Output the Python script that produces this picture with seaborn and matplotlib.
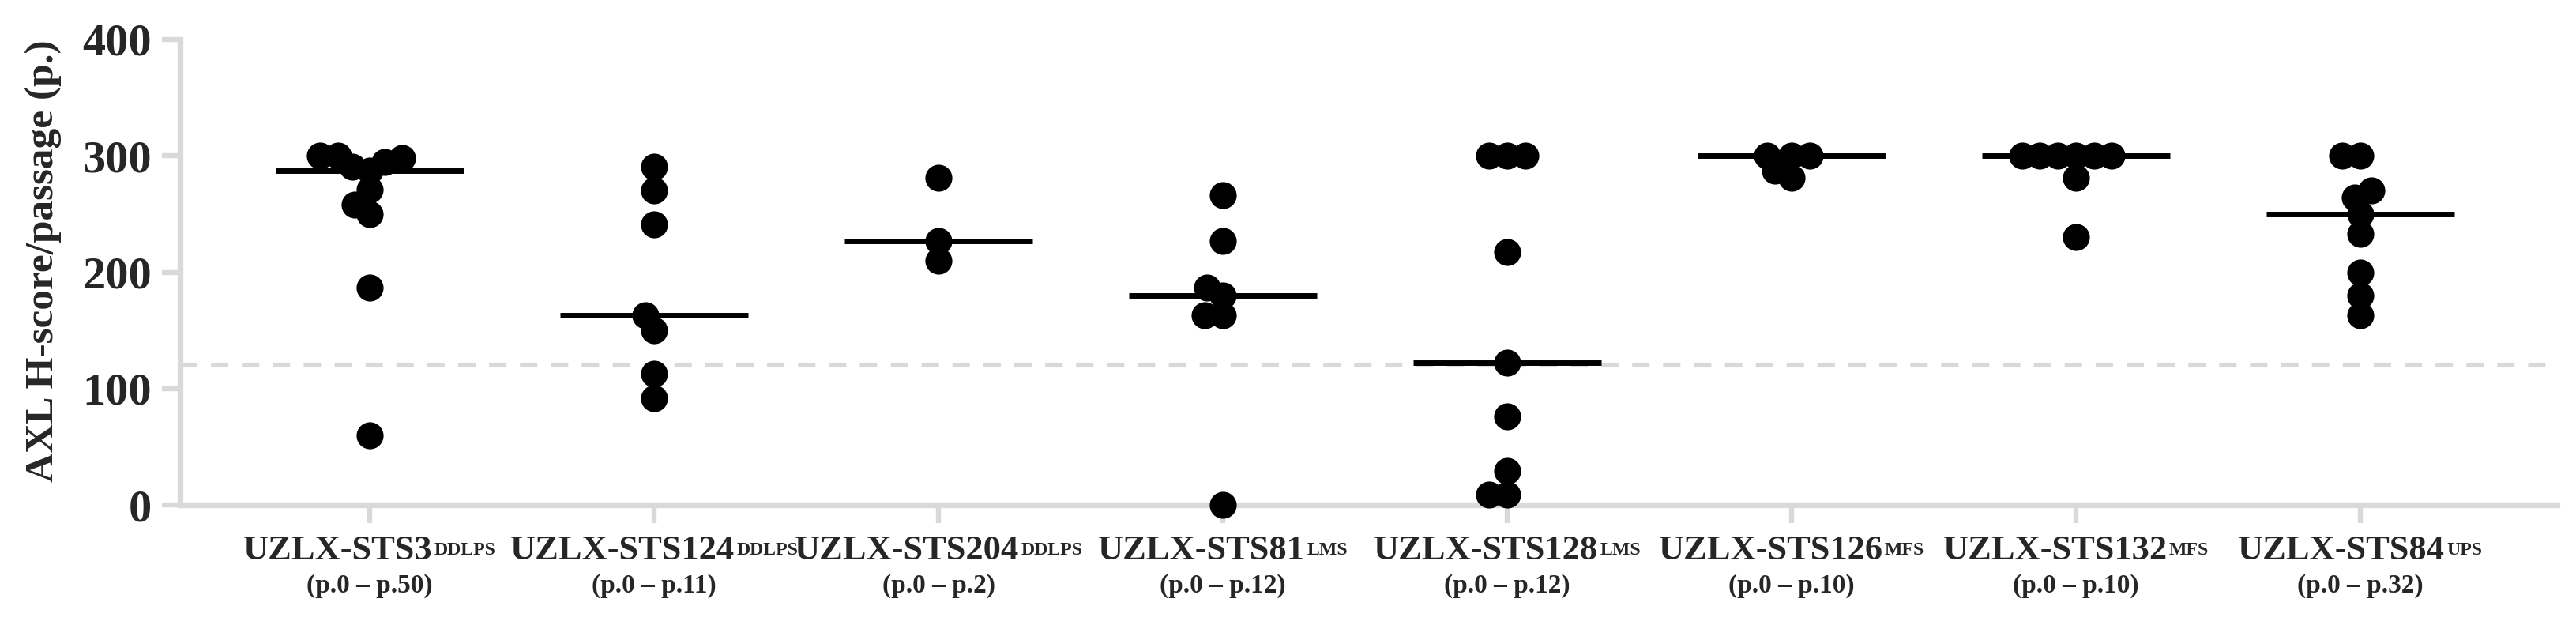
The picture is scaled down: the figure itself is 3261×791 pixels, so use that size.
import numpy as np
import pandas as pd
import matplotlib
matplotlib.use("Agg")
import matplotlib.pyplot as plt
import seaborn as sns
from matplotlib.offsetbox import TextArea, HPacker, VPacker, AnnotationBbox

# ---------------- data ----------------
models = ["UZLX-STS3", "UZLX-STS124", "UZLX-STS204", "UZLX-STS81",
          "UZLX-STS128", "UZLX-STS126", "UZLX-STS132", "UZLX-STS84"]
subtypes = ["DDLPS", "DDLPS", "DDLPS", "LMS", "LMS", "MFS", "MFS", "UPS"]
passages = ["(p.0 \u2013 p.50)", "(p.0 \u2013 p.11)", "(p.0 \u2013 p.2)", "(p.0 \u2013 p.12)",
            "(p.0 \u2013 p.12)", "(p.0 \u2013 p.10)", "(p.0 \u2013 p.10)", "(p.0 \u2013 p.32)"]

sts3 = [300, 300, 298, 295, 291, 287, 271, 258, 250, 187, 60]
sts124 = [291, 270, 241, 163, 150, 113, 92]
sts204 = [281, 227, 210]
sts81 = [266, 227, 187, 180, 163, 163, 0]
sts128 = [300, 300, 300, 217, 122, 76, 29, 9, 9]
sts126 = [300, 300, 300, 287, 281]
sts132 = [300, 300, 300, 300, 300, 300, 281, 230]
sts84 = [300, 300, 270, 264, 250, 233, 200, 180, 163]
scores = [sts3, sts124, sts204, sts81, sts128, sts126, sts132, sts84]

yticks = [0, 100, 200, 300, 400]
threshold = 120
y_label = "AXL H-score/passage (p.)"

# ---------------- style ----------------
sns.set_style("ticks")
plt.rcParams["font.family"] = ["Liberation Serif", "DejaVu Serif"]
plt.rcParams["font.weight"] = "bold"
GREY = "#d9d9d9"
DOT = 12.3          # visible marker diameter (pt)
DOT_LAYOUT = 7.8    # diameter used by the swarm layout (lets dots overlap a bit)

df = pd.DataFrame({
    "model": np.repeat(models, [len(v) for v in scores]),
    "score": np.concatenate(scores).astype(float),
})

W, H, DPI = 3262, 791, 200
fig = plt.figure(figsize=(W / DPI, H / DPI), dpi=DPI)
ax = fig.add_axes([228 / W, 1 - 639 / H, (3237 - 228) / W, (639 - 50) / H])

ax.axhline(threshold, color=GREY, lw=2.2, ls=(0, (3.6, 2.8)), zorder=0)

sns.swarmplot(data=df, x="model", y="score", order=models, color="black",
              size=DOT_LAYOUT, linewidth=0, ax=ax, zorder=3)
swarm_colls = list(ax.collections)
sns.pointplot(data=df, x="model", y="score", order=models, estimator="median",
              errorbar=None, linestyle="none", marker="_", markersize=86,
              markeredgewidth=2.5, color="black", ax=ax, zorder=4)

ax.set_xlim(-0.667, 7.692)
ax.set_ylim(0, 400)

# run the swarm layout once, then freeze it and enlarge the dots
fig.canvas.draw()
for c in swarm_colls:
    if "draw" in c.__dict__:
        del c.draw
    c.set_sizes([DOT ** 2])
    c.set_clip_on(False)

ax.set_xlim(-0.667, 7.692)
ax.set_ylim(0, 400)
ax.set_yticks(yticks)
ax.set_xlabel("")

for s in ["top", "right"]:
    ax.spines[s].set_visible(False)
for s in ["left", "bottom"]:
    ax.spines[s].set_color(GREY)
    ax.spines[s].set_linewidth(2.6)

ax.tick_params(axis="both", color=GREY, width=2.3, length=8.2)
ax.tick_params(axis="y", labelsize=21, pad=4.7)
ax.tick_params(axis="x", labelbottom=False)
for t in ax.get_yticklabels():
    t.set_fontweight("bold")

ax.set_ylabel(y_label, fontsize=18.5, fontweight="bold")
ax.yaxis.set_label_coords(-0.0498, 0.525)

# composite category labels (name + superscript subtype, passage range)
for i, (name, sub, psg) in enumerate(zip(models, subtypes, passages)):
    main = TextArea(name, textprops=dict(fontsize=16, fontweight="bold"))
    sup = TextArea(sub, textprops=dict(fontsize=8.6, fontweight="bold"))
    line1 = HPacker(children=[main, sup], align="center", pad=0, sep=0.8)
    line2 = TextArea(psg, textprops=dict(fontsize=12, fontweight="bold"))
    box = VPacker(children=[line1, line2], align="center", pad=0, sep=3.5)
    ab = AnnotationBbox(box, (i, 0), xycoords=("data", "axes fraction"),
                        xybox=(0, -13.5), boxcoords="offset points",
                        box_alignment=(0.5, 1), frameon=False,
                        annotation_clip=False, pad=0)
    ax.add_artist(ab)

fig.savefig("out.png", dpi=DPI)
